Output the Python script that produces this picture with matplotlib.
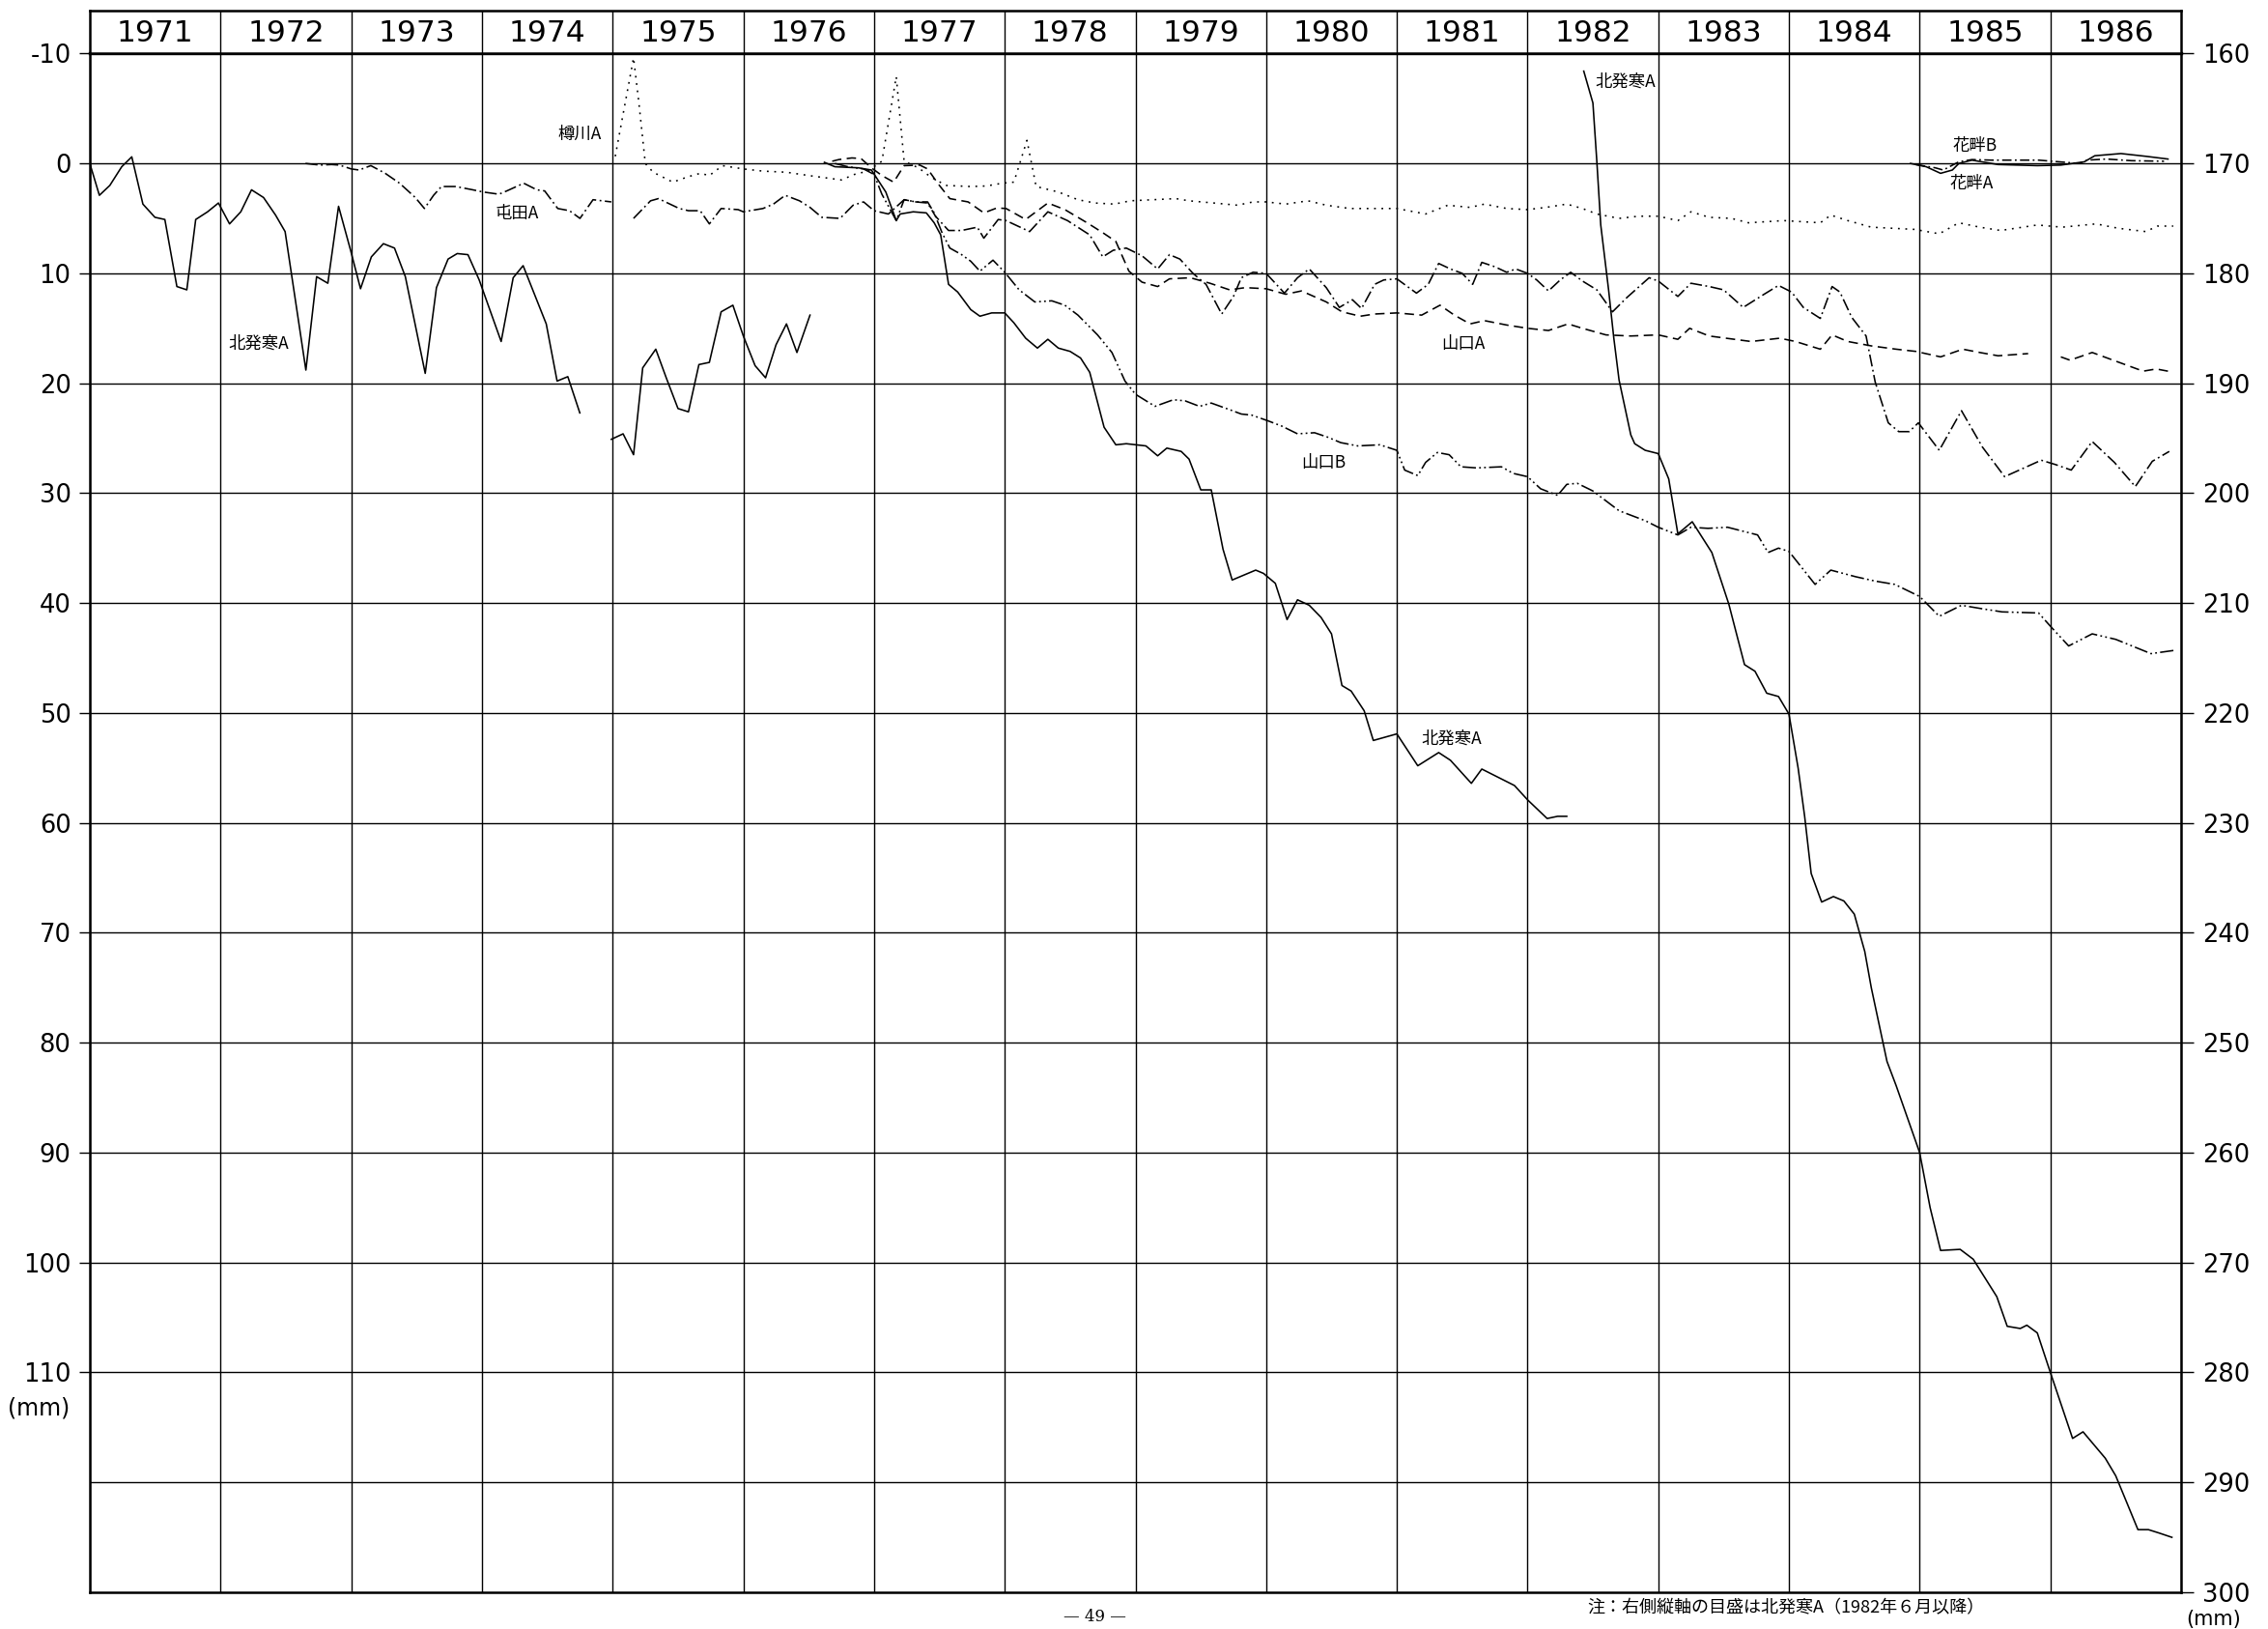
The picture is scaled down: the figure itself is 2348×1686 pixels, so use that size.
import numpy as np
import matplotlib
matplotlib.use("Agg")
import matplotlib.pyplot as plt

plt.rcParams['font.family'] = ['Noto Sans CJK JP', 'DejaVu Sans']
plt.rcParams['lines.scale_dashes'] = False

# ---------------- data (decimal year, settlement mm) ----------------
years = list(range(1971, 1987))

kita_t1 = [1971.000, 1971.073, 1971.153, 1971.244, 1971.321, 1971.406, 1971.498, 1971.574,
           1971.666, 1971.742, 1971.810, 1971.901, 1971.984, 1972.069, 1972.155, 1972.237,
           1972.329, 1972.421, 1972.494, 1972.653, 1972.735, 1972.821, 1972.903, 1972.995,
           1973.071, 1973.154, 1973.246, 1973.331, 1973.414, 1973.566, 1973.652, 1973.741,
           1973.811, 1973.893, 1973.979, 1974.147, 1974.239, 1974.315, 1974.492, 1974.575,
           1974.657, 1974.749]
kita_v1 = [0.0, 2.9, 2.0, 0.3, -0.6, 3.7, 4.9, 5.1, 11.2, 11.5, 5.1, 4.4, 3.6, 5.5, 4.4, 2.4,
           3.1, 4.7, 6.2, 18.8, 10.3, 10.9, 3.9, 7.9, 11.4, 8.5, 7.3, 7.7, 10.3, 19.1, 11.3, 8.7,
           8.2, 8.3, 10.6, 16.2, 10.4, 9.3, 14.6, 19.8, 19.4, 22.7]

kita_t2 = [1974.99, 1975.08, 1975.16, 1975.23, 1975.33, 1975.41, 1975.50, 1975.58, 1975.66,
           1975.74, 1975.83, 1975.92, 1976.00, 1976.09, 1976.17, 1976.25, 1976.33, 1976.41, 1976.51]
kita_v2 = [25.1, 24.6, 26.5, 18.6, 16.9, 19.5, 22.3, 22.6, 18.3, 18.1, 13.5, 12.9, 15.7, 18.4,
           19.5, 16.5, 14.6, 17.2, 13.8]

kita_t3 = [1976.62, 1976.70, 1976.88, 1976.98, 1977.09, 1977.17, 1977.20, 1977.30, 1977.40,
           1977.46, 1977.51, 1977.57, 1977.64, 1977.74, 1977.81, 1977.90, 1978.00, 1978.07,
           1978.16, 1978.25, 1978.33, 1978.41, 1978.50, 1978.58, 1978.65, 1978.76, 1978.85,
           1978.93, 1979.08, 1979.17, 1979.24, 1979.35, 1979.41, 1979.50, 1979.58, 1979.67,
           1979.74, 1979.84, 1979.92, 1979.98, 1980.07, 1980.16, 1980.24, 1980.33, 1980.42,
           1980.50, 1980.58, 1980.65, 1980.75, 1980.82, 1981.00, 1981.16, 1981.32, 1981.41,
           1981.57, 1981.65, 1981.80, 1981.90, 1982.00, 1982.15, 1982.23, 1982.30]
kita_v3 = [-0.1, 0.3, 0.4, 0.6, 2.6, 5.2, 4.6, 4.4, 4.5, 5.4, 6.5, 11.0, 11.7, 13.3, 13.9, 13.6,
           13.6, 14.5, 15.9, 16.8, 16.0, 16.8, 17.1, 17.7, 19.0, 24.0, 25.6, 25.5, 25.7, 26.6,
           25.9, 26.2, 26.9, 29.7, 29.7, 35.1, 37.9, 37.4, 37.0, 37.3, 38.2, 41.5, 39.7, 40.2,
           41.3, 42.8, 47.5, 48.0, 49.8, 52.5, 51.9, 54.8, 53.6, 54.3, 56.4, 55.1, 56.0, 56.6,
           57.9, 59.6, 59.4, 59.4]

# right-hand scale (from June 1982)
kita_t4 = [1982.43, 1982.50, 1982.53, 1982.56, 1982.62, 1982.66, 1982.70, 1982.79, 1982.82,
           1982.90, 1983.00, 1983.08, 1983.15, 1983.26, 1983.41, 1983.54, 1983.59, 1983.66,
           1983.74, 1983.83, 1983.92, 1984.00, 1984.07, 1984.12, 1984.17, 1984.25, 1984.34,
           1984.42, 1984.50, 1984.58, 1984.63, 1984.75, 1984.82, 1985.00, 1985.08, 1985.16,
           1985.31, 1985.41, 1985.59, 1985.67, 1985.77, 1985.82, 1985.90, 1986.00, 1986.17,
           1986.25, 1986.42, 1986.50, 1986.58, 1986.67, 1986.75, 1986.83, 1986.93]
kita_v4 = [161.6, 164.5, 169.8, 175.6, 181.5, 185.9, 189.7, 194.7, 195.5, 196.1, 196.4, 198.7,
           203.7, 202.6, 205.4, 210.1, 212.4, 215.6, 216.2, 218.2, 218.5, 220.1, 225.0, 229.4,
           234.6, 237.2, 236.7, 237.1, 238.3, 241.7, 245.0, 251.7, 253.9, 260.0, 265.0, 268.9,
           268.8, 269.7, 273.1, 275.8, 276.0, 275.7, 276.4, 280.0, 286.0, 285.4, 287.8, 289.4,
           291.7, 294.3, 294.3, 294.6, 295.0]

tonden_t = [1972.65, 1972.76, 1972.85, 1972.91, 1973.00, 1973.06, 1973.15, 1973.26, 1973.37,
            1973.49, 1973.56, 1973.63, 1973.69, 1973.80, 1973.93, 1974.01, 1974.13, 1974.19,
            1974.32, 1974.42, 1974.48, 1974.58, 1974.67, 1974.75, 1974.85, 1974.99, 1975.08,
            1975.16, 1975.29, 1975.35, 1975.51, 1975.58, 1975.67, 1975.74, 1975.83, 1975.96,
            1976.00, 1976.15, 1976.23, 1976.32, 1976.43, 1976.51, 1976.60, 1976.74, 1976.84,
            1976.92, 1977.00, 1977.11, 1977.23, 1977.32, 1977.41, 1977.47, 1977.57, 1977.67,
            1977.79, 1977.84, 1977.95, 1978.01, 1978.19, 1978.33, 1978.48, 1978.65, 1978.75,
            1978.83, 1978.93, 1979.05, 1979.17, 1979.26, 1979.34, 1979.44, 1979.54, 1979.66,
            1979.75, 1979.81, 1979.90, 1980.00, 1980.14, 1980.24, 1980.33, 1980.46, 1980.56,
            1980.66, 1980.73, 1980.83, 1980.90, 1981.00, 1981.15, 1981.24, 1981.32, 1981.41,
            1981.50, 1981.58, 1981.65, 1981.75, 1981.84, 1981.91, 1982.00, 1982.07, 1982.16,
            1982.25, 1982.33, 1982.42, 1982.53, 1982.65, 1982.76, 1982.93, 1983.00, 1983.15,
            1983.25, 1983.39, 1983.50, 1983.65, 1983.81, 1983.92, 1984.02, 1984.11, 1984.24,
            1984.33, 1984.39, 1984.48, 1984.59, 1984.66, 1984.76, 1984.84, 1984.92, 1984.99,
            1985.15, 1985.32, 1985.48, 1985.65, 1985.80, 1985.93, 1986.04, 1986.16, 1986.32,
            1986.49, 1986.65, 1986.78, 1986.91]
tonden_v = [0.0, 0.15, 0.1, 0.15, 0.5, 0.6, 0.2, 0.9, 1.8, 3.1, 4.1, 2.9, 2.1, 2.1, 2.4, 2.6,
            2.8, 2.5, 1.8, 2.4, 2.5, 4.1, 4.3, 5.0, 3.3, 3.5, np.nan, 5.0, 3.4, 3.2, 4.1, 4.3,
            4.3, 5.5, 4.1, 4.2, 4.4, 4.1, 3.7, 2.9, 3.4, 4.0, 4.9, 5.0, 3.8, 3.5, 4.3, 4.6, 3.3,
            3.5, 3.6, 4.8, 6.1, 6.1, 5.8, 6.8, 5.1, 5.2, 6.2, 4.4, 5.2, 6.5, 8.5, 7.9, 7.7, 8.4,
            9.6, 8.3, 8.7, 10.0, 11.0, 13.7, 12.1, 10.4, 9.9, 10.0, 11.8, 10.4, 9.6, 11.3, 13.1,
            12.4, 13.2, 11.0, 10.6, 10.5, 11.8, 11.0, 9.1, 9.6, 10.0, 11.0, 9.0, 9.4, 9.9, 9.6,
            10.0, 10.6, 11.6, 10.6, 9.9, 10.7, 11.5, 13.5, 12.2, 10.4, 10.7, 12.1, 10.9, 11.2,
            11.5, 13.1, 11.9, 11.1, 11.7, 13.1, 14.1, 11.2, 11.7, 14.0, 15.7, 19.9, 23.6, 24.4,
            24.4, 23.6, 26.1, 22.5, 25.8, 28.5, 27.7, 27.0, 27.4, 27.9, 25.3, 27.2, 29.4, 27.1,
            26.2]

tarukawa_t = [1975.02, 1975.16, 1975.20, 1975.25, 1975.31, 1975.46, 1975.58, 1975.67, 1975.74,
              1975.84, 1976.00, 1976.15, 1976.33, 1976.50, 1976.75, 1976.85, 1976.95, 1977.06,
              1977.17, 1977.23, 1977.34, 1977.43, 1977.55, 1977.74, 1977.86, 1977.98, 1978.07,
              1978.17, 1978.24, 1978.41, 1978.56, 1978.69, 1978.84, 1978.96, 1979.31, 1979.41,
              1979.60, 1979.78, 1979.90, 1980.00, 1980.15, 1980.32, 1980.46, 1980.64, 1980.83,
              1981.00, 1981.22, 1981.39, 1981.56, 1981.67, 1981.84, 1982.00, 1982.14, 1982.30,
              1982.42, 1982.53, 1982.70, 1982.85, 1983.00, 1983.15, 1983.25, 1983.39, 1983.56,
              1983.69, 1983.96, 1984.24, 1984.32, 1984.45, 1984.63, 1984.96, 1985.15, 1985.30,
              1985.46, 1985.62, 1985.90, 1986.09, 1986.35, 1986.52, 1986.73, 1986.82, 1986.94]
tarukawa_v = [-0.65, -9.6, -5.6, 0.0, 0.8, 1.7, 1.2, 0.9, 1.1, 0.2, 0.5, 0.7, 0.8, 1.1, 1.5,
              1.0, 0.7, -0.2, -7.9, -0.2, 0.4, 1.2, 2.0, 2.1, 2.05, 1.8, 1.7, -2.1, 2.1, 2.6,
              3.3, 3.6, 3.7, 3.4, 3.2, 3.4, 3.6, 3.8, 3.5, 3.5, 3.7, 3.4, 3.8, 4.1, 4.1, 4.1,
              4.6, 3.8, 4.0, 3.7, 4.1, 4.2, 4.0, 3.7, 4.1, 4.6, 5.0, 4.8, 4.8, 5.2, 4.4, 4.9,
              5.0, 5.4, 5.2, 5.4, 4.7, 5.2, 5.8, 6.0, 6.4, 5.4, 5.8, 6.1, 5.6, 5.8, 5.5, 5.9,
              6.2, 5.7, 5.7]

yamaA_t = [1976.68, 1976.73, 1976.83, 1976.90, 1976.98, 1977.06, 1977.15, 1977.23, 1977.35,
           1977.41, 1977.49, 1977.58, 1977.72, 1977.84, 1977.94, 1978.01, 1978.16, 1978.33,
           1978.46, 1978.63, 1978.75, 1978.85, 1978.95, 1979.05, 1979.17, 1979.26, 1979.42,
           1979.57, 1979.72, 1979.84, 1980.00, 1980.15, 1980.27, 1980.46, 1980.58, 1980.72,
           1980.83, 1981.00, 1981.19, 1981.33, 1981.44, 1981.56, 1981.67, 1981.84, 1982.00,
           1982.16, 1982.31, 1982.42, 1982.60, 1982.79, 1983.00, 1983.15, 1983.24, 1983.39,
           1983.71, 1983.93, 1984.05, 1984.24, 1984.33, 1984.45, 1984.63, 1984.82, 1984.97,
           1985.16, 1985.33, 1985.46, 1985.60, 1985.83, 1985.95, 1986.08, 1986.15, 1986.32,
           1986.48, 1986.71, 1986.81, 1986.90]
yamaA_v = [-0.2, -0.35, -0.5, -0.45, 0.4, 1.1, 1.7, 0.2, 0.15, 0.5, 1.85, 3.2, 3.5, 4.5, 4.05,
           4.1, 5.1, 3.6, 4.2, 5.4, 6.3, 7.1, 9.8, 10.8, 11.2, 10.5, 10.4, 10.9, 11.5, 11.3,
           11.4, 11.9, 11.6, 12.6, 13.5, 13.9, 13.7, 13.6, 13.8, 12.9, 13.8, 14.6, 14.3, 14.7,
           15.0, 15.2, 14.6, 15.0, 15.6, 15.7, 15.6, 16.0, 15.0, 15.7, 16.2, 15.9, 16.2, 16.9,
           15.6, 16.2, 16.6, 16.9, 17.1, 17.6, 16.9, 17.2, 17.5, 17.3, np.nan, 17.6, 17.9, 17.2,
           17.9, 18.9, 18.7, 18.9]

yamaB_t = [1976.70, 1976.80, 1976.92, 1977.00, 1977.06, 1977.17, 1977.23, 1977.32, 1977.41,
           1977.46, 1977.52, 1977.58, 1977.67, 1977.74, 1977.81, 1977.91, 1978.00, 1978.11,
           1978.23, 1978.36, 1978.46, 1978.56, 1978.71, 1978.82, 1978.92, 1979.00, 1979.15,
           1979.29, 1979.38, 1979.49, 1979.58, 1979.72, 1979.81, 1979.89, 1980.01, 1980.12,
           1980.24, 1980.37, 1980.47, 1980.57, 1980.70, 1980.87, 1981.00, 1981.06, 1981.16,
           1981.22, 1981.31, 1981.40, 1981.49, 1981.61, 1981.80, 1981.89, 1982.00, 1982.10,
           1982.23, 1982.30, 1982.38, 1982.50, 1982.70, 1982.90, 1983.00, 1983.15, 1983.25,
           1983.38, 1983.53, 1983.76, 1983.84, 1983.92, 1984.00, 1984.20, 1984.32, 1984.51,
           1984.66, 1984.81, 1985.00, 1985.15, 1985.32, 1985.47, 1985.63, 1985.91, 1986.00,
           1986.14, 1986.32, 1986.50, 1986.77, 1986.95]
yamaB_v = [0.0, 0.3, 0.5, 1.0, 2.8, 5.2, 3.3, 3.5, 3.5, 4.5, 6.3, 7.7, 8.3, 8.9, 9.8, 8.8, 9.9,
           11.5, 12.6, 12.5, 12.9, 13.8, 15.6, 17.2, 19.8, 21.0, 22.1, 21.5, 21.6, 22.1, 21.8,
           22.4, 22.8, 22.9, 23.4, 23.9, 24.6, 24.5, 24.9, 25.4, 25.7, 25.6, 26.1, 27.9, 28.4,
           27.2, 26.3, 26.5, 27.6, 27.7, 27.6, 28.2, 28.5, 29.6, 30.2, 29.2, 29.1, 29.8, 31.6,
           32.5, 33.1, 33.8, 33.1, 33.2, 33.1, 33.8, 35.4, 35.0, 35.3, 38.3, 37.0, 37.6, 38.0,
           38.3, 39.4, 41.2, 40.2, 40.5, 40.8, 40.9, 42.1, 43.9, 42.8, 43.3, 44.6, 44.3]

hanaA_t = [1984.93, 1985.05, 1985.16, 1985.25, 1985.30, 1985.40, 1985.60, 1985.90, 1986.08,
           1986.26, 1986.34, 1986.54, 1986.73, 1986.90]
hanaA_v = [0.0, 0.3, 0.9, 0.6, 0.0, -0.3, 0.1, 0.2, 0.15, -0.15, -0.7, -0.9, -0.65, -0.4]

hanaB_t = [1984.97, 1985.12, 1985.18, 1985.30, 1985.40, 1985.55, 1985.91, 1986.22, 1986.28,
           1986.43, 1986.62, 1986.87]
hanaB_v = [0.1, 0.4, 0.6, -0.15, -0.35, -0.3, -0.3, 0.0, -0.3, -0.4, -0.25, -0.2]

left_ticks = list(range(-10, 111, 10))
right_ticks = list(range(160, 301, 10))

# ---------------- figure ----------------
W, H = 2348, 1686
fig = plt.figure(figsize=(W / 100, H / 100), dpi=100)
x0, x1 = 93, 2258
y_top, y_bot, y_head = 55.4, 1648, 11
L = x0 / W
AW = (x1 - x0) / W
B = 1 - y_bot / H
AH = (y_bot - y_top) / H

ax = fig.add_axes([L, B, AW, AH])
ax.set_xlim(1971, 1987)
ax.set_ylim(130, -10)
for s in ax.spines.values():
    s.set_linewidth(1.8)
ax.spines['top'].set_linewidth(2.4)
for yv in range(-10, 121, 10):
    ax.axhline(yv, color='black', lw=1.0, zorder=1)
for xv in range(1971, 1988):
    ax.axvline(xv, color='black', lw=1.0, zorder=1)
ax.set_xticks([])
ax.set_yticks(left_ticks)
ax.set_yticklabels([str(v) for v in left_ticks], family='DejaVu Sans', fontsize=18.5)
ax.tick_params(axis='y', direction='out', length=8, width=1.0, pad=6)

ax2 = ax.twinx()
ax2.set_ylim(300, 160)
ax2.set_yticks(right_ticks)
ax2.set_yticklabels([str(v) for v in right_ticks], family='DejaVu Sans', fontsize=18.5)
ax2.tick_params(axis='y', direction='out', length=9, width=1.0, pad=7)
for s in ax2.spines.values():
    s.set_visible(False)

lw = 1.15
k = dict(color='black', lw=lw, zorder=3)
ax.plot(kita_t1, kita_v1, '-', **k)
ax.plot(kita_t2, kita_v2, '-', **k)
ax.plot(kita_t3, kita_v3, '-', **k)
ax2.plot(kita_t4, kita_v4, '-', **k)
ax.plot(tonden_t, tonden_v, linestyle=(0, (9, 2.6, 1.3, 2.6)), **k)
ax.plot(tarukawa_t, tarukawa_v, linestyle=(0, (1.3, 4.2)), **k)
ax.plot(yamaA_t, yamaA_v, linestyle=(0, (7, 4)), **k)
ax.plot(yamaB_t, yamaB_v, linestyle=(0, (10, 2.4, 1.3, 2.4, 1.3, 2.4)), **k)
ax.plot(hanaA_t, hanaA_v, '-', **k)
ax.plot(hanaB_t, hanaB_v, linestyle=(0, (7, 2.5, 1.3, 2.5)), **k)

# series labels
lab = dict(fontsize=12.5, ha='center', va='center', zorder=4)
ax.text(1974.75, -2.7, '樽川A', **lab)
ax.text(1974.27, 4.6, '屯田A', **lab)
ax.text(1972.29, 16.4, '北発寒A', **lab)
ax.text(1981.51, 16.4, '山口A', **lab)
ax.text(1980.44, 27.2, '山口B', **lab)
ax.text(1981.42, 52.3, '北発寒A', **lab)
ax.text(1982.75, -7.4, '北発寒A', **lab)
ax.text(1985.42, -1.6, '花畔B', **lab)
ax.text(1985.40, 1.8, '花畔A', **lab)

# header row with years
hax = fig.add_axes([L, 1 - y_top / H, AW, (y_top - y_head) / H])
hax.set_xlim(1971, 1987)
hax.set_ylim(0, 1)
hax.set_xticks([])
hax.set_yticks([])
for s in hax.spines.values():
    s.set_linewidth(1.8)
for xv in range(1972, 1987):
    hax.axvline(xv, color='black', lw=1.0)
for yr in years:
    hax.text(yr + 0.5, 0.47, str(yr), ha='center', va='center',
             family='DejaVu Sans', fontsize=22.5)

# units and notes
fig.text(40 / W, 1 - 1457 / H, '(mm)', ha='center', va='center',
         family='DejaVu Sans', fontsize=17)
fig.text(2292 / W, 1 - 1676 / H, '(mm)', ha='center', va='center',
         family='DejaVu Sans', fontsize=15)
fig.text(1643 / W, 1 - 1664 / H, '注：右側縦軸の目盛は北発寒A（1982年６月以降）',
         ha='left', va='center', fontsize=13)
fig.text(1133 / W, 1 - 1673 / H, '— 49 —', ha='center', va='center',
         family='DejaVu Serif', fontsize=12)

fig.savefig('out.png', dpi=100)
